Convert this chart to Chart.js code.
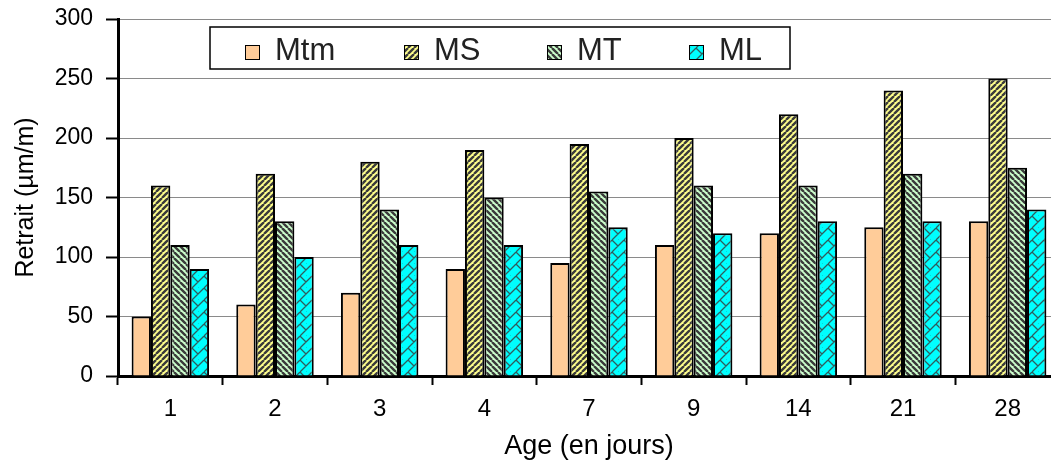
<!DOCTYPE html>
<html>
<head>
<meta charset="utf-8">
<script src="https://cdn.jsdelivr.net/npm/chart.js@4.4.1/dist/chart.umd.min.js"></script>
<style>
  html, body { margin: 0; padding: 0; background: #fff; overflow: hidden; }
  #wrap { width: 1051px; height: 463px; overflow: hidden; }
</style>
</head>
<body>
<div id="wrap"><canvas id="c" width="1060" height="463"></canvas></div>
<script>
// Shrinkage (µm/m) by age in days
const ages = ['1', '2', '3', '4', '7', '9', '14', '21', '28'];
const mtm = [50, 60, 70, 90, 95, 110, 120, 125, 130];
const ms  = [160, 170, 180, 190, 195, 200, 220, 240, 250];
const mt  = [110, 130, 140, 150, 155, 160, 160, 170, 175];
const ml  = [90, 100, 110, 110, 125, 120, 130, 130, 140];
const seriesNames = ['Mtm', 'MS', 'MT', 'ML'];
const yTicks = [0, 50, 100, 150, 200, 250, 300];

const FONT = "'Liberation Sans', Arial, Helvetica, sans-serif";

// Diagonal hatch fills
function stripePattern(bg, fg, rising) {
  const s = 6;
  const c = document.createElement('canvas');
  c.width = s; c.height = s;
  const x = c.getContext('2d');
  x.fillStyle = bg; x.fillRect(0, 0, s, s);
  x.strokeStyle = fg; x.lineWidth = 2.4;
  x.beginPath();
  for (let k = -1; k <= 1; k++) {
    if (rising) { x.moveTo(k * s, s); x.lineTo(k * s + s, 0); }
    else        { x.moveTo(k * s, 0); x.lineTo(k * s + s, s); }
  }
  x.stroke();
  return x.createPattern(c, 'repeat');
}
function weavePattern(bg, fg) {
  const s = 12;
  const c = document.createElement('canvas');
  c.width = s; c.height = s;
  const x = c.getContext('2d');
  x.fillStyle = bg; x.fillRect(0, 0, s, s);
  x.strokeStyle = fg; x.lineWidth = 1.3;
  x.beginPath();
  for (let k = -1; k <= 1; k++) { x.moveTo(k * s, s); x.lineTo(k * s + s, 0); }
  x.moveTo(0, 0); x.lineTo(6, 6);
  x.moveTo(6, 12); x.lineTo(12, 18);
  x.stroke();
  return x.createPattern(c, 'repeat');
}

const fills = [
  '#FFCC99',
  stripePattern('#FFFF8C', '#3a3a3a', true),
  stripePattern('#CCFFCC', '#3a3a3a', false),
  weavePattern('#00FFFF', '#2f5d5d')
];

// Boxed legend drawn inside the plot area
const boxedLegend = {
  id: 'boxedLegend',
  afterDraw(chart) {
    const ctx = chart.ctx;
    const box = { x: 210, y: 27, w: 580, h: 42 };
    const textX = [275, 434, 577, 719];
    ctx.save();
    ctx.fillStyle = '#fff';
    ctx.fillRect(box.x, box.y, box.w, box.h);
    ctx.strokeStyle = '#000';
    ctx.lineWidth = 1.5;
    ctx.strokeRect(box.x, box.y, box.w, box.h);
    ctx.font = '31px ' + FONT;
    ctx.textBaseline = 'alphabetic';
    ctx.textAlign = 'left';
    chart.data.datasets.forEach((ds, i) => {
      const sx = textX[i] - 30, sy = 45;
      ctx.fillStyle = ds.backgroundColor;
      ctx.fillRect(sx, sy, 15, 15);
      ctx.strokeStyle = '#000';
      ctx.lineWidth = 1;
      ctx.strokeRect(sx + 0.5, sy + 0.5, 14, 14);
      ctx.fillStyle = '#222';
      ctx.fillText(ds.label, textX[i], 60);
    });
    ctx.restore();
  }
};

const seriesData = [mtm, ms, mt, ml];

new Chart(document.getElementById('c'), {
  type: 'bar',
  data: {
    labels: ages,
    datasets: seriesNames.map((name, i) => ({
      label: name,
      data: seriesData[i],
      backgroundColor: fills[i],
      borderColor: '#000',
      borderWidth: 2,
      barPercentage: 1.0,
      categoryPercentage: 0.74
    }))
  },
  options: {
    responsive: false,
    animation: false,
    devicePixelRatio: 1,
    layout: { padding: { top: 19, right: 0, bottom: 0, left: 0 } },
    plugins: { legend: { display: false }, tooltip: { enabled: false } },
    scales: {
      x: {
        grid: { drawOnChartArea: false, drawTicks: true, tickLength: 9, tickColor: '#000', tickWidth: 2, offset: true },
        border: { color: '#000', width: 3 },
        ticks: { color: '#000', font: { family: FONT, size: 24 }, padding: 10, maxRotation: 0 },
        title: { display: true, text: 'Age (en jours)', color: '#000', font: { family: FONT, size: 27, lineHeight: 1 }, padding: { top: 0, bottom: 3 } },
        afterFit(scale) { scale.height = 87; scale.paddingLeft = 0; scale.paddingRight = 0; }
      },
      y: {
        min: 0, max: 300,
        afterBuildTicks(scale) { scale.ticks = yTicks.map(v => ({ value: v })); },
        grid: { color: '#8a8a8a', lineWidth: 1, tickColor: '#000', tickLength: 12, tickWidth: 2 },
        border: { color: '#000', width: 3, dash: [] },
        ticks: { color: '#000', font: { family: FONT, size: 23 }, padding: 13 },
        title: { display: true, text: 'Retrait (µm/m)', color: '#000', font: { family: FONT, size: 25, lineHeight: 1 }, padding: { top: 14, bottom: 0 } },
        afterFit(scale) { scale.width = 118; scale.paddingTop = 0; scale.paddingBottom = 0; }
      }
    }
  },
  plugins: [boxedLegend]
});
</script>
</body>
</html>
